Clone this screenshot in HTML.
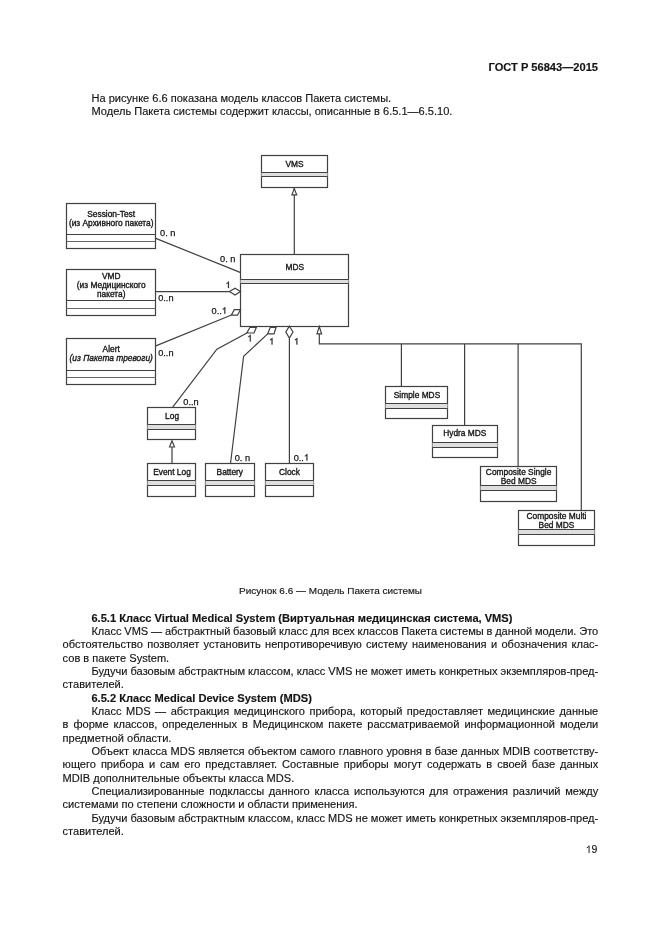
<!DOCTYPE html>
<html lang="ru"><head><meta charset="utf-8"><title>ГОСТ Р 56843—2015</title>
<style>
html,body{margin:0;padding:0;background:#fff;}
body{width:661px;height:935px;position:relative;overflow:hidden;font-family:"Liberation Sans",sans-serif;}
#pg{position:absolute;left:0;top:0;width:661px;height:935px;will-change:transform;}
svg{position:absolute;left:0;top:0;}
svg text{font-family:"Liberation Sans",sans-serif;}
.p{font-size:11.05px;fill:#141414;stroke:#141414;stroke-width:0.15px;}
.b{font-weight:bold;}
.d{font-size:8.5px;fill:#161616;stroke:#161616;stroke-width:0.35px;}
.m{font-size:9.2px;fill:#161616;stroke:#161616;stroke-width:0.25px;}
</style></head><body><div id="pg">

<svg width="661" height="935" viewBox="0 0 661 935">
<text class="p b" x="598.0" y="71.0" text-anchor="end" style="font-size:11.1px;">ГОСТ Р 56843—2015</text>
<text class="p" x="91.5" y="102">На рисунке 6.6 показана модель классов Пакета системы.</text>
<text class="p" x="91.5" y="115">Модель Пакета системы содержит классы, описанные в 6.5.1—6.5.10.</text>
<text class="p" x="239.0" y="594" style="font-size:9.98px;">Рисунок 6.6 — Модель Пакета системы</text>
<text class="p b" x="91.45" y="622" style="font-size:11.1px;">6.5.1 Класс Virtual Medical System (Виртуальная медицинская система, VMS)</text>
<text class="p" x="91.45" y="635" style="word-spacing:-0.274px;">Класс VMS — абстрактный базовый класс для всех классов Пакета системы в данной модели. Это</text>
<text class="p" x="62.6" y="648" style="word-spacing:1.291px;">обстоятельство позволяет установить непротиворечивую систему наименования и обозначения клас-</text>
<text class="p" x="62.6" y="662">сов в пакете System.</text>
<text class="p" x="91.45" y="675" style="word-spacing:-0.014px;">Будучи базовым абстрактным классом, класс VMS не может иметь конкретных экземпляров-пред-</text>
<text class="p" x="62.6" y="688">ставителей.</text>
<text class="p b" x="91.45" y="702" style="font-size:11.1px;">6.5.2 Класс Medical Device System (MDS)</text>
<text class="p" x="91.45" y="715" style="word-spacing:1.451px;">Класс MDS — абстракция медицинского прибора, который предоставляет медицинские данные</text>
<text class="p" x="62.6" y="728" style="word-spacing:1.901px;">в форме классов, определенных в Медицинском пакете рассматриваемой информационной модели</text>
<text class="p" x="62.6" y="742">предметной области.</text>
<text class="p" x="91.45" y="755" style="word-spacing:0.260px;">Объект класса MDS является объектом самого главного уровня в базе данных MDIB соответству-</text>
<text class="p" x="62.6" y="768" style="word-spacing:1.898px;">ющего прибора и сам его представляет. Составные приборы могут содержать в своей базе данных</text>
<text class="p" x="62.6" y="782">MDIB дополнительные объекты класса MDS.</text>
<text class="p" x="91.45" y="795" style="word-spacing:1.664px;">Специализированные подклассы данного класса используются для отражения различий между</text>
<text class="p" x="62.6" y="808">системами по степени сложности и области применения.</text>
<text class="p" x="91.45" y="822" style="word-spacing:-0.075px;">Будучи базовым абстрактным классом, класс MDS не может иметь конкретных экземпляров-пред-</text>
<text class="p" x="62.6" y="835">ставителей.</text>
<text class="p" x="597.3" y="853" text-anchor="end" style="font-size:10.5px;">9</text>
<g fill="none" stroke="#404040" stroke-width="1.2">
<path d="M294.3 188V254M155.8 238.4L240.7 272.6M155.8 291.6H229.5M155.8 345.9L231.5 315M246.9 333L216.9 349.1L172.7 407.2M267.7 333.9L243.6 356.2L230.5 463.5M289.4 338V463.5M319.3 334V343.9H581.3V510.8M401.4 343.9V386.3M464.6 343.9V425.1M518.1 343.9V466.6M172 447V463.5"/>
<rect x="261.5" y="155.5" width="66.0" height="32.0" fill="#fff"/>
<rect x="261.5" y="172.5" width="66.0" height="4.0" fill="#dedede" stroke="none"/>
<path d="M261.5 172.5H327.5M261.5 176.5H327.5"/>
<rect x="66.5" y="203.5" width="89.0" height="45.0" fill="#fff"/>
<path d="M66.5 234.5H155.5"/><path d="M66.5 241.5H155.5" stroke="#666" stroke-width="1.2"/>
<rect x="66.5" y="269.5" width="89.0" height="46.0" fill="#fff"/>
<path d="M66.5 300.5H155.5"/><path d="M66.5 308.5H155.5" stroke="#666" stroke-width="1.2"/>
<rect x="66.5" y="338.5" width="89.0" height="46.0" fill="#fff"/>
<path d="M66.5 370.5H155.5"/><path d="M66.5 377.5H155.5" stroke="#666" stroke-width="1.2"/>
<rect x="240.5" y="254.5" width="108.0" height="72.0" fill="#fff"/>
<rect x="240.5" y="279.5" width="108.0" height="4.0" fill="#dedede" stroke="none"/>
<path d="M240.5 279.5H348.5M240.5 283.5H348.5"/>
<rect x="147.5" y="407.5" width="48.0" height="32.0" fill="#fff"/>
<rect x="147.5" y="424.5" width="48.0" height="5.0" fill="#dedede" stroke="none"/>
<path d="M147.5 424.5H195.5M147.5 429.5H195.5"/>
<rect x="147.5" y="463.5" width="48.0" height="33.0" fill="#fff"/>
<rect x="147.5" y="480.5" width="48.0" height="5.0" fill="#dedede" stroke="none"/>
<path d="M147.5 480.5H195.5M147.5 485.5H195.5"/>
<rect x="205.5" y="463.5" width="49.0" height="33.0" fill="#fff"/>
<rect x="205.5" y="480.5" width="49.0" height="5.0" fill="#dedede" stroke="none"/>
<path d="M205.5 480.5H254.5M205.5 485.5H254.5"/>
<rect x="265.5" y="463.5" width="48.0" height="33.0" fill="#fff"/>
<rect x="265.5" y="480.5" width="48.0" height="5.0" fill="#dedede" stroke="none"/>
<path d="M265.5 480.5H313.5M265.5 485.5H313.5"/>
<rect x="385.5" y="386.5" width="62.0" height="32.0" fill="#fff"/>
<rect x="385.5" y="403.5" width="62.0" height="5.0" fill="#dedede" stroke="none"/>
<path d="M385.5 403.5H447.5M385.5 408.5H447.5"/>
<rect x="432.5" y="425.5" width="65.0" height="32.0" fill="#fff"/>
<rect x="432.5" y="442.5" width="65.0" height="5.0" fill="#dedede" stroke="none"/>
<path d="M432.5 442.5H497.5M432.5 447.5H497.5"/>
<rect x="480.5" y="466.5" width="76.0" height="35.0" fill="#fff"/>
<rect x="480.5" y="485.5" width="76.0" height="5.0" fill="#dedede" stroke="none"/>
<path d="M480.5 485.5H556.5M480.5 490.5H556.5"/>
<rect x="518.5" y="510.5" width="76.0" height="35.0" fill="#fff"/>
<rect x="518.5" y="529.5" width="76.0" height="5.0" fill="#dedede" stroke="none"/>
<path d="M518.5 529.5H594.5M518.5 534.5H594.5"/>
<g fill="#fff">
<path d="M294.3 188.6L296.7 194.9H291.9Z"/>
<path d="M319.3 326.6L321.6 333.9H317Z"/>
<path d="M172 440.8L174.5 447H169.5Z"/>
<path d="M240.5 291.6L235 288.2L229.5 291.6L235 295Z"/>
<path d="M240.5 309.6L234.3 309.6L231.3 315.2L237.5 315.2Z"/>
<path d="M256.4 327.3L250 327.3L246.8 333L254 333Z"/>
<path d="M276 327.5L270.2 327.5L267.6 333.9L274 333.9Z"/>
<path d="M289.4 326.2L293 332L289.4 338L285.8 332Z"/>
</g></g>
<text class="d" transform="translate(294.6 167.0) scale(0.985 1)" text-anchor="middle">VMS</text>
<text class="d" transform="translate(111.2 216.7) scale(0.985 1)" text-anchor="middle">Session-Test</text>
<text class="d" transform="translate(111.2 225.7) scale(0.985 1)" text-anchor="middle">(из Архивного пакета)</text>
<text class="d" transform="translate(111.2 278.6) scale(0.985 1)" text-anchor="middle">VMD</text>
<text class="d" transform="translate(111.2 287.9) scale(0.985 1)" text-anchor="middle">(из Медицинского</text>
<text class="d" transform="translate(111.2 296.8) scale(0.985 1)" text-anchor="middle">пакета)</text>
<text class="d" transform="translate(111.2 352.2) scale(0.985 1)" text-anchor="middle">Alert</text>
<text class="d" transform="translate(111.2 361.2) scale(0.985 1)" text-anchor="middle" font-style="italic">(из Пакета тревоги)</text>
<text class="d" transform="translate(294.9 269.5) scale(0.985 1)" text-anchor="middle">MDS</text>
<text class="d" transform="translate(172.1 419.1) scale(0.985 1)" text-anchor="middle">Log</text>
<text class="d" transform="translate(172 475.2) scale(0.985 1)" text-anchor="middle">Event Log</text>
<text class="d" transform="translate(229.8 475.2) scale(0.985 1)" text-anchor="middle">Battery</text>
<text class="d" transform="translate(289.5 475.2) scale(0.985 1)" text-anchor="middle">Clock</text>
<text class="d" transform="translate(417.0 397.6) scale(0.985 1)" text-anchor="middle">Simple MDS</text>
<text class="d" transform="translate(464.8 436.3) scale(0.985 1)" text-anchor="middle">Hydra MDS</text>
<text class="d" transform="translate(518.6 474.8) scale(0.985 1)" text-anchor="middle">Composite Single</text>
<text class="d" transform="translate(518.6 483.7) scale(0.985 1)" text-anchor="middle">Bed MDS</text>
<text class="d" transform="translate(556.5 518.6) scale(0.985 1)" text-anchor="middle">Composite Multi</text>
<text class="d" transform="translate(556.5 527.5) scale(0.985 1)" text-anchor="middle">Bed MDS</text>
<text class="m" x="160.1" y="236.4">0. n</text>
<text class="m" x="220.1" y="261.5">0. n</text>
<text class="m" x="158.2" y="301.2">0..n</text>
<path d="M763 0H583V-1147Q518 -1085 412.5 -1023T223 -930V-1104Q373 -1174.5 485.5 -1275T647 -1466H763Z" transform="translate(225.40 288.1) scale(0.00449)" fill="#161616" stroke="#161616" stroke-width="56"/>
<text class="m" x="158.2" y="355.8">0..n</text>
<text class="m" x="211.6" y="313.8">0..</text>
<path d="M763 0H583V-1147Q518 -1085 412.5 -1023T223 -930V-1104Q373 -1174.5 485.5 -1275T647 -1466H763Z" transform="translate(221.83 313.8) scale(0.00449)" fill="#161616" stroke="#161616" stroke-width="56"/>
<text class="m" x="183.3" y="404.5">0..n</text>
<path d="M763 0H583V-1147Q518 -1085 412.5 -1023T223 -930V-1104Q373 -1174.5 485.5 -1275T647 -1466H763Z" transform="translate(247.20 341.4) scale(0.00449)" fill="#161616" stroke="#161616" stroke-width="56"/>
<text class="m" x="234.7" y="460.6">0. n</text>
<path d="M763 0H583V-1147Q518 -1085 412.5 -1023T223 -930V-1104Q373 -1174.5 485.5 -1275T647 -1466H763Z" transform="translate(269.00 344.5) scale(0.00449)" fill="#161616" stroke="#161616" stroke-width="56"/>
<text class="m" x="293.7" y="460.6">0..</text>
<path d="M763 0H583V-1147Q518 -1085 412.5 -1023T223 -930V-1104Q373 -1174.5 485.5 -1275T647 -1466H763Z" transform="translate(303.93 460.6) scale(0.00449)" fill="#161616" stroke="#161616" stroke-width="56"/>
<path d="M763 0H583V-1147Q518 -1085 412.5 -1023T223 -930V-1104Q373 -1174.5 485.5 -1275T647 -1466H763Z" transform="translate(293.90 344.5) scale(0.00449)" fill="#161616" stroke="#161616" stroke-width="56"/>
<path d="M763 0H583V-1147Q518 -1085 412.5 -1023T223 -930V-1104Q373 -1174.5 485.5 -1275T647 -1466H763Z" transform="translate(585.62 853) scale(0.00513)" fill="#141414"/>
</svg>
</div></body></html>
